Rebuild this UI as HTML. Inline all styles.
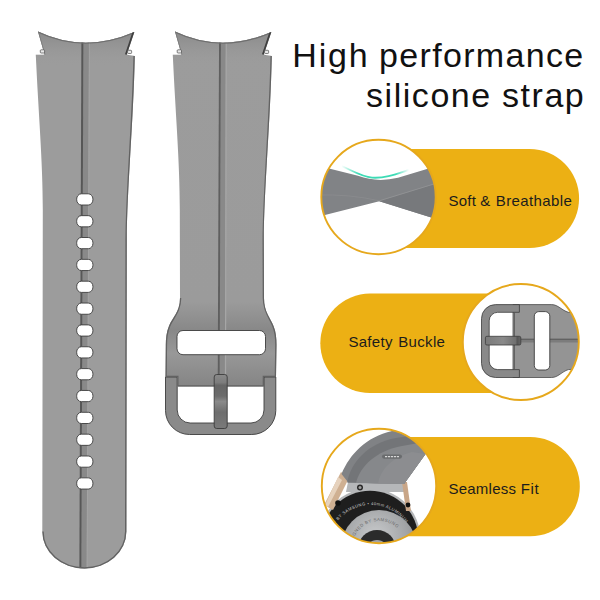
<!DOCTYPE html>
<html><head><meta charset="utf-8">
<style>
html,body{margin:0;padding:0;background:#fff;width:600px;height:600px;overflow:hidden}
svg{display:block}
text{font-family:"Liberation Sans",sans-serif}
</style></head>
<body>
<svg width="600" height="600" viewBox="0 0 600 600">
<defs>
  <clipPath id="cpA"><path d="M38,31.5 Q84.5,53.5 134.3,32 L126.7,54.8 L134.8,55.9 C133.5,120 127,190 126.8,240 L126.4,531.5 A42.05,37.1 0 0 1 42.3,531.5 L42.8,210 C42.8,160 38.5,115 35.8,54.8 L44.6,54.8 Z"/></clipPath>
  <clipPath id="cpB2"><path d="M175,31.5 Q221.5,53.5 271.3,32 L263.7,54.8 L271.8,55.9 C270.5,120 264,190 263.8,240 L264,298 C264,312 270.5,318 273.5,326 C276,332 276.5,338 276.5,345 L276,377 L264,377 L264,386.5 L177.2,386.5 L177.2,377 L165.5,377 L165.8,345 C165.8,338 166.5,332 169,326 C172,318 180,312 180,298 L179.8,210 C179.8,160 175.5,115 172.8,54.8 L181.6,54.8 Z"/></clipPath>
  <linearGradient id="gA" x1="0" y1="0" x2="1" y2="0">
    <stop offset="0" stop-color="#939393"/><stop offset="0.12" stop-color="#9b9b9b"/><stop offset="1" stop-color="#9e9e9e"/>
  </linearGradient>
  <linearGradient id="gB" gradientUnits="userSpaceOnUse" x1="0" y1="31" x2="0" y2="387">
    <stop offset="0" stop-color="#9c9c9c"/><stop offset="0.76" stop-color="#9b9b9b"/><stop offset="0.84" stop-color="#888888"/>
    <stop offset="0.905" stop-color="#989898"/><stop offset="1" stop-color="#848484"/>
  </linearGradient>
  <linearGradient id="gP" x1="0" y1="0" x2="0" y2="1">
    <stop offset="0" stop-color="#8a8a8a"/><stop offset="0.15" stop-color="#7c7c7c"/><stop offset="0.2" stop-color="#666"/>
    <stop offset="0.4" stop-color="#6c6c6c"/><stop offset="0.5" stop-color="#8a8a8a"/><stop offset="0.7" stop-color="#6e6e6e"/><stop offset="1" stop-color="#7a7a7a"/>
  </linearGradient>
  <clipPath id="c1"><circle cx="378.5" cy="197" r="57.2"/></clipPath>
  <clipPath id="c2"><circle cx="520.8" cy="342" r="58"/></clipPath>
  <clipPath id="c3"><circle cx="379" cy="486" r="57.2"/></clipPath>
  <linearGradient id="gCy" x1="0" y1="0" x2="1" y2="0">
    <stop offset="0" stop-color="#3ddbb5" stop-opacity="0"/><stop offset="0.25" stop-color="#3ddbb5"/><stop offset="0.8" stop-color="#3ddbb5"/><stop offset="1" stop-color="#3ddbb5" stop-opacity="0"/>
  </linearGradient>
  <linearGradient id="gP2" x1="0" y1="0" x2="1" y2="0">
    <stop offset="0" stop-color="#7a7a7a"/><stop offset="0.5" stop-color="#8a8a8a"/><stop offset="0.85" stop-color="#707070"/><stop offset="0.9" stop-color="#555"/><stop offset="1" stop-color="#666"/>
  </linearGradient>
  <radialGradient id="gSil" cx="0.45" cy="0.35" r="0.7">
    <stop offset="0" stop-color="#c9cbcd"/><stop offset="0.6" stop-color="#a2a4a6"/><stop offset="1" stop-color="#7d7f81"/>
  </radialGradient>
  <linearGradient id="gTop" gradientUnits="userSpaceOnUse" x1="0" y1="31" x2="0" y2="66">
    <stop offset="0" stop-color="#888" stop-opacity="1"/><stop offset="1" stop-color="#9c9c9c" stop-opacity="0"/>
  </linearGradient>
</defs>

<!-- LEFT STRAP -->
<g id="strapA">
  <path d="M38,31.5 Q84.5,53.5 134.3,32 L126.7,54.8 L134.8,55.9 C133.5,120 127,190 126.8,240 L126.4,531.5 A42.05,37.1 0 0 1 42.3,531.5 L42.8,210 C42.8,160 38.5,115 35.8,54.8 L44.6,54.8 Z" fill="#9c9c9c"/>
  <g clip-path="url(#cpA)">
    <rect x="30" y="28" width="110" height="40" fill="url(#gTop)"/>
    <path d="M83.4,40 L89,40 L86.6,575 L81.3,575 Z" fill="#898989"/>
    <path d="M82.4,40 L80.35,575" stroke="#575757" stroke-width="2"/>
    <path d="M89.4,40 L87.1,575" stroke="#a6a6a6" stroke-width="0.8"/>
    <path d="M38,31.5 Q84.5,53.5 134.3,32" fill="none" stroke="#6e6e6e" stroke-width="2.4"/>
    <path d="M134.3,32 L126.7,54.8" fill="none" stroke="#404040" stroke-width="3.6"/>
    <path d="M134.8,55.9 C133.5,120 127,190 126.8,240 L126.4,531.5 A42.05,37.1 0 0 1 42.3,531.5" fill="none" stroke="#626262" stroke-width="2.8"/>
    <path d="M38,31.5 L44.6,54.8" fill="none" stroke="#7a7a7a" stroke-width="1.6"/>
  </g>
  <g fill="#fff" stroke="#3c3c3c" stroke-width="0.9">
    <rect x="76.7" y="193.80" width="16.2" height="11.2" rx="4.6" ry="5.2"/>
    <rect x="76.7" y="215.65" width="16.2" height="11.2" rx="4.6" ry="5.2"/>
    <rect x="76.7" y="237.50" width="16.2" height="11.2" rx="4.6" ry="5.2"/>
    <rect x="76.7" y="259.35" width="16.2" height="11.2" rx="4.6" ry="5.2"/>
    <rect x="76.7" y="281.20" width="16.2" height="11.2" rx="4.6" ry="5.2"/>
    <rect x="76.7" y="303.05" width="16.2" height="11.2" rx="4.6" ry="5.2"/>
    <rect x="76.7" y="324.90" width="16.2" height="11.2" rx="4.6" ry="5.2"/>
    <rect x="76.7" y="346.75" width="16.2" height="11.2" rx="4.6" ry="5.2"/>
    <rect x="76.7" y="368.60" width="16.2" height="11.2" rx="4.6" ry="5.2"/>
    <rect x="76.7" y="390.45" width="16.2" height="11.2" rx="4.6" ry="5.2"/>
    <rect x="76.7" y="412.30" width="16.2" height="11.2" rx="4.6" ry="5.2"/>
    <rect x="76.7" y="434.15" width="16.2" height="11.2" rx="4.6" ry="5.2"/>
    <rect x="76.7" y="456.00" width="16.2" height="11.2" rx="4.6" ry="5.2"/>
    <rect x="76.7" y="477.85" width="16.2" height="11.2" rx="4.6" ry="5.2"/>
  </g>
  <rect x="40.3" y="49.8" width="4.3" height="3.2" rx="0.8" fill="#e8e8e8" stroke="#4a4a4a" stroke-width="0.7"/>
  <rect x="127.6" y="50.3" width="4.0" height="3.2" rx="0.8" fill="#e8e8e8" stroke="#4a4a4a" stroke-width="0.7"/>
</g>

<!-- RIGHT STRAP + BUCKLE -->
<g id="strapB">
  <path d="M165.5,377 L177.2,377 L177.2,410 A13,13 0 0 0 190.2,423 L251,423 A13,13 0 0 0 264,410 L264,377 L275.8,377 L275.8,410.5 A24,24 0 0 1 251.8,434.5 L189.5,434.5 A24,24 0 0 1 165.5,410.5 Z" fill="#8a8a8a" stroke="#3c3c3c" stroke-width="0.9"/>
  <path d="M175,31.5 Q221.5,53.5 271.3,32 L263.7,54.8 L271.8,55.9 C270.5,120 264,190 263.8,240 L264,298 C264,312 270.5,318 273.5,326 C276,332 276.5,338 276.5,345 L276,377 L264,377 L264,386.5 L177.2,386.5 L177.2,377 L165.5,377 L165.8,345 C165.8,338 166.5,332 169,326 C172,318 180,312 180,298 L179.8,210 C179.8,160 175.5,115 172.8,54.8 L181.6,54.8 Z" fill="url(#gB)"/>
  <g clip-path="url(#cpB2)">
    <rect x="165" y="28" width="112" height="40" fill="url(#gTop)"/>
    <path d="M221,40 L225.7,40 L224.8,376 L219.6,376 Z" fill="#898989"/>
    <path d="M220,40 L218.7,376" stroke="#5f5f5f" stroke-width="1.9"/>
    <path d="M226.3,40 L225.5,376" stroke="#a6a6a6" stroke-width="1.2"/>
    <path d="M175,31.5 Q221.5,53.5 271.3,32" fill="none" stroke="#6e6e6e" stroke-width="2.4"/>
    <path d="M271.3,32 L263.7,54.8" fill="none" stroke="#404040" stroke-width="3.6"/>
    <path d="M271.8,55.9 C270.5,120 264,190 263.8,240 L264,298 C264,312 270.5,318 273.5,326 C276,332 276.5,338 276.5,345 L276,377 L264,377 L264,386.5 L177.2,386.5 L177.2,377 L165.5,377 L165.8,345 C165.8,338 166.5,332 169,326 C172,318 180,312 180,298" fill="none" stroke="#626262" stroke-width="2.6"/>
    <path d="M175,31.5 L181.6,54.8" fill="none" stroke="#7a7a7a" stroke-width="1.6"/>
  </g>
  <rect x="177" y="330.5" width="88.5" height="24.2" rx="6" fill="#fff" stroke="#3c3c3c" stroke-width="0.9"/>
  <rect x="177.2" y="49.8" width="4.3" height="3.2" rx="0.8" fill="#e8e8e8" stroke="#4a4a4a" stroke-width="0.7"/>
  <rect x="264.6" y="50.3" width="4.0" height="3.2" rx="0.8" fill="#e8e8e8" stroke="#4a4a4a" stroke-width="0.7"/>
  <rect x="214.2" y="374.5" width="13" height="54" rx="2.5" fill="url(#gP)" stroke="#3c3c3c" stroke-width="0.9"/>
</g>

<!-- TITLE -->
<text x="292.36" y="66.8" font-size="34" textLength="75.37" lengthAdjust="spacing" fill="#111">High</text>
<text x="379.00" y="66.8" font-size="34" textLength="204.19" lengthAdjust="spacing" fill="#111">performance</text>
<text x="366.10" y="106.9" font-size="34" textLength="124.09" lengthAdjust="spacing" fill="#111">silicone</text>
<text x="502.10" y="106.9" font-size="34" textLength="81.68" lengthAdjust="spacing" fill="#111">strap</text>

<!-- CALLOUT 1 -->
<path d="M378,149 L529.6,149 A49.5,49.5 0 0 1 529.6,248 L378,248 Z" fill="#ECB014"/>
<circle cx="378.5" cy="197" r="57.2" fill="#fff"/>
<g clip-path="url(#c1)">
  <path d="M315,165 L358,175.8 Q377,182.8 398,177.8 L442,164.5 L442,221 L379.3,201.3 L315,217.5 Z" fill="#818386"/>
  <path d="M379.3,201.3 L442,182 L442,221 Z" fill="#77797c"/>
  <path d="M379.3,200.8 L442,181.5" stroke="#96989a" stroke-width="0.7"/>
  <path d="M316,195 Q350,194 379.3,200.8" fill="none" stroke="#8b8d8f" stroke-width="0.8"/>
  <path d="M341.5,166 C354,171.5 362,176.8 372,177.6 C385,178.4 395,174.5 409,169.8" fill="none" stroke="url(#gCy)" stroke-width="1.9"/>
</g>
<circle cx="378.5" cy="197" r="57.2" fill="none" stroke="#E6A81C" stroke-width="1.9"/>
<text x="448.53" y="205.8" font-size="15" textLength="27.27" lengthAdjust="spacing" fill="#1c1c1c">Soft</text>
<text x="480.35" y="205.8" font-size="15" textLength="12.29" lengthAdjust="spacing" fill="#1c1c1c">&amp;</text>
<text x="495.79" y="205.8" font-size="15" textLength="76.01" lengthAdjust="spacing" fill="#1c1c1c">Breathable</text>

<!-- CALLOUT 2 -->
<path d="M521,293.6 L370,293.6 A49.7,49.7 0 0 0 370,393 L521,393 Z" fill="#ECB014"/>
<circle cx="520.8" cy="342" r="58" fill="#fff"/>
<g clip-path="url(#c2)">
  <path d="M513,304.6 L551.7,304.6 C558,304.6 562,310.5 568.3,312.3 L590,314 L590,368 L568.3,369.6 C562,371.5 558,377.5 551.7,377.5 L513,377.5 Z" fill="#949494" stroke="#4a4a4a" stroke-width="0.8"/>
  <path d="M520.8,339.2 L590,339.2 L590,342.5 L520.8,342.5 Z" fill="#7c7c7c"/>
  <path d="M520.8,339.2 L590,339.2" stroke="#555" stroke-width="1"/>
  <rect x="534.3" y="311.6" width="15.5" height="58.4" rx="4.5" fill="#fff" stroke="#3c3c3c" stroke-width="0.9"/>
  <path d="M519.4,304.6 L495.5,304.6 A14,14 0 0 0 481.5,318.6 L481.5,363.5 A14,14 0 0 0 495.5,377.5 L519.4,377.5 L519.4,369.6 L497.7,369.6 A8.5,8.5 0 0 1 489.2,361.1 L489.2,320.8 A8.5,8.5 0 0 1 497.7,312.3 L519.4,312.3 Z" fill="#898989" stroke="#3c3c3c" stroke-width="0.8"/>
  <path d="M514.3,312.3 L514.3,369.6" stroke="#555" stroke-width="1"/>
  <rect x="485.4" y="336.3" width="35.4" height="8.7" rx="1.5" fill="url(#gP2)" stroke="#3c3c3c" stroke-width="0.8"/>
</g>
<circle cx="520.8" cy="342" r="58" fill="none" stroke="#E6A81C" stroke-width="1.9"/>
<text x="348.40" y="347" font-size="15" textLength="44.01" lengthAdjust="spacing" fill="#1c1c1c">Safety</text>
<text x="398.27" y="347" font-size="15" textLength="46.66" lengthAdjust="spacing" fill="#1c1c1c">Buckle</text>

<!-- CALLOUT 3 -->
<path d="M379,437 L530.2,437 A49.6,49.6 0 0 1 530.2,536.2 L379,536.2 Z" fill="#ECB014"/>
<circle cx="379" cy="486" r="57.2" fill="#fff"/>
<g clip-path="url(#c3)">
  <circle cx="370" cy="539" r="50.5" fill="#b5b7b9"/>
  <path d="M348,482 L404,484 L406,492 L346,492 Z" fill="#b5b7b9"/>
  <circle cx="370" cy="539" r="48.3" fill="#1e1e1e"/>
  <path id="bzArc" d="M328,548 A43,43 0 0 1 414,548" fill="none"/>
  <text font-size="4.2" fill="#c8c8c8" letter-spacing="0.45"><textPath href="#bzArc" startOffset="12">STRAP BY SAMSUNG  •  40mm ALUMINUM</textPath></text>
  <circle cx="379" cy="548" r="38" fill="url(#gSil)"/>
  <path id="slArc" d="M352,548 A27,27 0 0 1 406,548" fill="none"/>
  <text font-size="4.5" fill="#6a6a6a" letter-spacing="0.4"><textPath href="#slArc">DESIGNED BY SAMSUNG</textPath></text>
  <circle cx="377" cy="549" r="19" fill="#2b2b2b"/>
  <circle cx="377" cy="551" r="11" fill="#a4a4a4"/>
  <circle cx="377" cy="552" r="5" fill="#555"/>
  <path d="M341,472 L349,478 L333,510 L324,505 Z" fill="#cfb092"/>
  <path d="M338,477 L342,480 L328,507 L325,505 Z" fill="#e6d2bd"/>
  <path d="M402,482 L407,482 L411,511 L406,511 Z" fill="#c9a688"/>
  <path d="M341.5,474 C350,454 366,437 392,431 L440,425 L440,445 L425.5,454 L404,484 L348.3,482.5 Z" fill="#808285"/>
  <path d="M347,482.5 C351,462 368,443 396,438 L434,432 L425.5,454 L404,484 Z" fill="#737578"/>
  <path d="M356,483 C360,466 376,451 402,446 L430,441 L425.5,454 L404,484 Z" fill="#86888b"/>
  <path d="M378,484 C380,470 392,457 412,452 L425.5,454 L404,484 Z" fill="#8e9093" opacity="0.7"/>
  <rect x="382" y="454.5" width="20" height="4.2" rx="2.1" fill="#6a6c6e"/>
  <path d="M385,456.6 L399,456.6" stroke="#d8d8d8" stroke-width="1.1" stroke-dasharray="2.2 0.8"/>
  <circle cx="360" cy="487.5" r="3" fill="#2a2a2a"/>
  <circle cx="360" cy="487.5" r="1.5" fill="#a0a0a0"/>
  <circle cx="338" cy="503" r="2.8" fill="#111"/>
  <circle cx="408" cy="505" r="2.4" fill="#111"/>
</g>
<circle cx="379" cy="486" r="57.2" fill="none" stroke="#E6A81C" stroke-width="1.9"/>
<text x="448.40" y="493.5" font-size="15" textLength="67.66" lengthAdjust="spacing" fill="#1c1c1c">Seamless</text>
<text x="520.79" y="493.5" font-size="15" textLength="18.00" lengthAdjust="spacing" fill="#1c1c1c">Fit</text>
</svg>
</body></html>
